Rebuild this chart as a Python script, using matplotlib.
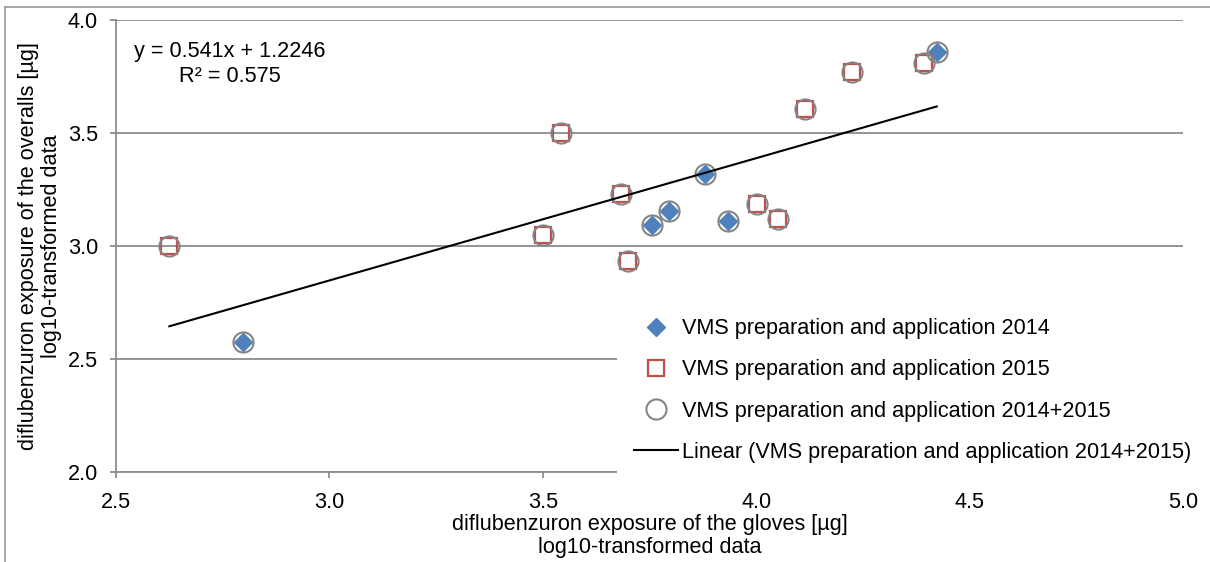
import numpy as np
import matplotlib
matplotlib.use("Agg")
import matplotlib.pyplot as plt
from matplotlib.lines import Line2D

plt.rcParams["font.family"] = ["Liberation Sans", "DejaVu Sans"]
FS = 15.6

# glove exposure (x) vs overall exposure (y), log10-transformed
X_2014 = [2.798, 3.755, 3.796, 3.879, 3.933, 4.423]
Y_2014 = [2.575, 3.093, 3.154, 3.320, 3.110, 3.858]
X_2015 = [2.625, 3.500, 3.542, 3.683, 3.700, 4.002, 4.050, 4.114, 4.224, 4.394]
Y_2015 = [3.000, 3.050, 3.501, 3.232, 2.933, 3.188, 3.119, 3.608, 3.770, 3.809]

# Excel linear trendline for the combined set
SLOPE, INTERCEPT, R2 = 0.541, 1.2246, 0.575

LABELS = ["VMS preparation and application 2014",
          "VMS preparation and application 2015",
          "VMS preparation and application 2014+2015",
          "Linear (VMS preparation and application 2014+2015)"]

BLUE, RED, GREY, GRID = "#4F81BD", "#C0504D", "#858585", "#8C8C8C"

W, H = 1210, 562
PX = 72 / 100  # points per pixel
fig = plt.figure(figsize=(W / 100, H / 100), dpi=100)
ax = fig.add_axes([116 / W, (H - 472) / H, (1183 - 116) / W, (472 - 20) / H])

x_all = np.array(X_2014 + X_2015)
y_all = np.array(Y_2014 + Y_2015)

ax.plot(X_2014, Y_2014, ls="none", marker="D", ms=8.8, color=BLUE, zorder=3)
ax.plot(X_2015, Y_2015, ls="none", marker="s", ms=11, mfc="none", mec=RED, mew=1.6, zorder=3)
ax.plot(x_all, y_all, ls="none", marker="o", ms=14.5, mfc="none", mec=GREY, mew=1.5, zorder=4)
xs = np.array([x_all.min(), x_all.max()])
ax.plot(xs, SLOPE * xs + INTERCEPT, color="black", lw=1.5, zorder=5)

ax.set_xlim(2.5, 5.0); ax.set_ylim(2.0, 4.0)
ax.set_xticks(np.arange(2.5, 5.01, 0.5)); ax.set_yticks(np.arange(2.0, 4.01, 0.5))
ax.xaxis.set_major_formatter(matplotlib.ticker.FormatStrFormatter("%.1f"))
ax.yaxis.set_major_formatter(matplotlib.ticker.FormatStrFormatter("%.1f"))
ax.grid(axis="y", color=GRID, lw=1.3)
ax.set_axisbelow(True)
for s in ["top", "right"]:
    ax.spines[s].set_visible(False)
for s in ["left", "bottom"]:
    ax.spines[s].set_color(GRID); ax.spines[s].set_linewidth(1.3)
ax.tick_params(direction="out", length=6 * PX, width=1.3, color=GRID, labelsize=FS)
ax.tick_params(axis="x", pad=14 * PX)
ax.tick_params(axis="y", pad=12 * PX)

ax.set_xlabel("diflubenzuron exposure of the gloves [µg]\nlog10-transformed data",
              fontsize=FS, linespacing=1.12, labelpad=0.5)
ax.set_ylabel("diflubenzuron exposure of the overalls [µg]\nlog10-transformed data",
              fontsize=FS, linespacing=1.15, labelpad=4)

ax.text(230 / W, 1 - 64 / H, f"y = {SLOPE}x + {INTERCEPT}\nR² = {R2}", transform=fig.transFigure,
        ha="center", va="center", fontsize=FS, linespacing=1.25)

handles = [Line2D([], [], ls="none", marker="D", ms=8.8, color=BLUE),
           Line2D([], [], ls="none", marker="s", ms=11, mfc="none", mec=RED, mew=1.6),
           Line2D([], [], ls="none", marker="o", ms=14.5, mfc="none", mec=GREY, mew=1.5),
           Line2D([], [], color="black", lw=1.5)]
leg = ax.legend(handles, LABELS, loc="upper left", bbox_to_anchor=(617 / W, 1 - 301 / H),
                bbox_transform=fig.transFigure, fontsize=FS, frameon=True, fancybox=False,
                edgecolor="none", facecolor="white", framealpha=1, borderpad=0.8,
                handlelength=2.0, handletextpad=0.2, labelspacing=0.93, borderaxespad=0)
leg.set_zorder(6)

# chart-area border (left and top edges are inside the picture)
fig.add_artist(Line2D([5 / W, 5 / W], [0, 1 - 7 / H], color="#A0A0A0", lw=1.3))
fig.add_artist(Line2D([5 / W, 1], [1 - 7 / H, 1 - 7 / H], color="#A0A0A0", lw=1.3))

fig.savefig("out.png", dpi=100)
